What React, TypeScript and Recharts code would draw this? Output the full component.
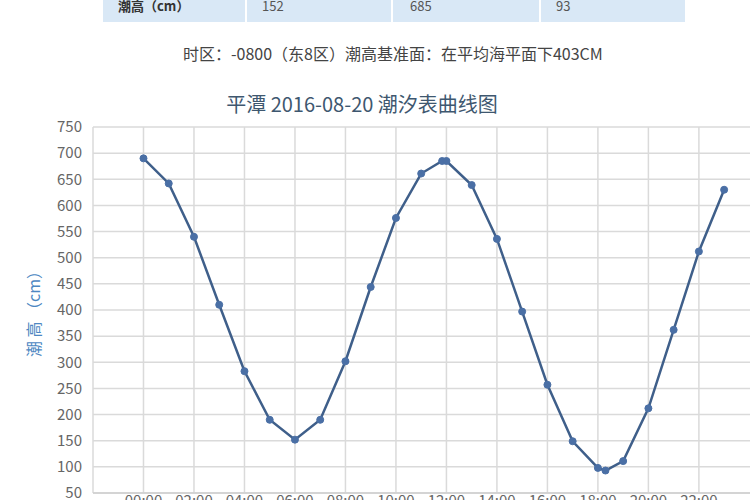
import { LineChart, Line, XAxis, YAxis, CartesianGrid } from 'recharts';

// 平潭 2016-08-20，整点潮高 + 高/低潮时刻
const hours = [0, 1, 2, 3, 4, 5, 6, 7, 8, 9, 10, 11, 11.83, 12, 13, 14, 15, 16, 17, 18, 18.3, 19, 20, 21, 22, 23];
const heights = [690, 642, 540, 410, 283, 190, 152, 190, 302, 444, 576, 661, 685, 685, 639, 536, 397, 257, 149, 98, 93, 111, 212, 362, 512, 630];

const xTicks = [-2, 0, 2, 4, 6, 8, 10, 12, 14, 16, 18, 20, 22];
const yTicks = [50, 100, 150, 200, 250, 300, 350, 400, 450, 500, 550, 600, 650, 700, 750];

const tableHead = '潮高（cm）';
const tableValues = [152, 685, 93];

const FONT = '"Noto Sans CJK SC", "Noto Sans", sans-serif';

const fmtHour = (v: number) => (v < 0 ? '' : `${String(v).padStart(2, '0')}:00`);

const App = () => {
    const data = hours.map((t, i) => ({ t, h: heights[i] }));

    const cell = (left: number, width: number, text: string | number, bold = false) => (
        <div
            key={left}
            style={{
                position: 'absolute',
                left,
                top: 0,
                width,
                height: 32,
                lineHeight: '32px',
                paddingLeft: 15,
                boxSizing: 'border-box',
                fontSize: 13,
                fontWeight: bold ? 700 : 400,
                color: bold ? '#333' : '#555',
                borderRight: '2px solid #fff',
            }}
        >
            {text}
        </div>
    );

    return (
        <div
            style={{
                position: 'absolute',
                left: 0,
                top: 0,
                width: 750,
                height: 500,
                overflow: 'hidden',
                background: '#fff',
                fontFamily: FONT,
            }}
        >
            {/* 表格最后一行（上半部分被裁掉） */}
            <div style={{ position: 'absolute', left: 103, top: -10, width: 582, height: 32, background: '#d9e8f6' }}>
                {cell(0, 144, tableHead, true)}
                {tableValues.map((v, i) => cell([144, 292, 438][i], 146, v))}
            </div>

            <div style={{ position: 'absolute', left: 183, top: 41, fontSize: 16, color: '#444', whiteSpace: 'nowrap' }}>
                时区：-0800（东8区）潮高基准面：在平均海平面下403CM
            </div>

            <div style={{ position: 'absolute', left: 0, width: 724, top: 89, textAlign: 'center', fontSize: 20, color: '#3e576f', whiteSpace: 'nowrap' }}>
                平潭 2016-08-20 潮汐表曲线图
            </div>

            <div style={{ position: 'absolute', left: 0, top: 0 }}>
                <LineChart width={762} height={523} data={data} margin={{ top: 127, right: 0, left: 0, bottom: 0 }}>
                    <CartesianGrid stroke="#dadada" strokeWidth={1.5} />
                    <XAxis
                        dataKey="t"
                        type="number"
                        domain={[-2, 24.5]}
                        ticks={xTicks}
                        tickFormatter={fmtHour}
                        height={30}
                        tickLine={false}
                        tickMargin={-4}
                        axisLine={{ stroke: '#cfcfcf', strokeWidth: 1.5 }}
                        tick={{ fill: '#666', fontSize: 15, fontFamily: FONT }}
                    />
                    <YAxis
                        type="number"
                        domain={[50, 750]}
                        ticks={yTicks}
                        width={93}
                        tickLine={false}
                        tickMargin={5}
                        axisLine={false}
                        tick={{ fill: '#666', fontSize: 15, fontFamily: FONT }}
                        label={{
                            value: '潮 高 （cm）',
                            angle: -90,
                            position: 'center',
                            dx: -12,
                            fill: '#4d87c2',
                            fontSize: 16,
                            fontFamily: FONT,
                        }}
                    />
                    <Line
                        type="linear"
                        dataKey="h"
                        stroke="#3f5f8a"
                        strokeWidth={2.5}
                        dot={{ r: 3.5, fill: '#4a6fa5', stroke: '#4a6fa5', strokeWidth: 1 }}
                        isAnimationActive={false}
                    />
                </LineChart>
            </div>
        </div>
    );
};

export default App;
